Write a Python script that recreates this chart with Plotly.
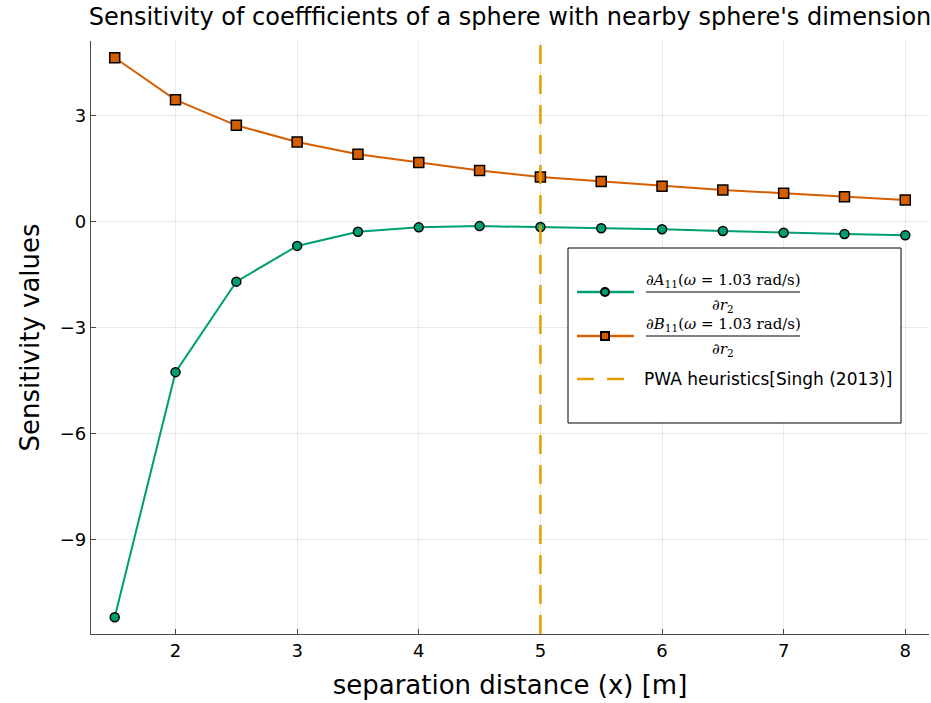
import plotly.graph_objects as go

# separation distance between the spheres [m]
separation = [1.5, 2.0, 2.5, 3.0, 3.5, 4.0, 4.5, 5.0, 5.5, 6.0, 6.5, 7.0, 7.5, 8.0]

# d A11 / d r2 (added mass sensitivity)
dA11_dr2 = [-11.19, -4.26, -1.70, -0.69, -0.29, -0.165, -0.13, -0.155, -0.19,
            -0.22, -0.27, -0.32, -0.355, -0.39]

# d B11 / d r2 (damping sensitivity)
dB11_dr2 = [4.63, 3.44, 2.72, 2.25, 1.90, 1.67, 1.44, 1.26, 1.13, 1.00, 0.89,
            0.80, 0.70, 0.61]

# PWA heuristic separation limit
pwa_limit = 5.0

x_ticks = [2, 3, 4, 5, 6, 7, 8]
y_ticks = [3, 0, -3, -6, -9]

GREEN = "#009E73"
ORANGE = "#D55E00"
GOLD = "#E69F00"

W, H = 931, 703
ML, MR, MT, MB = 91, 2, 41, 69
PW, PH = W - ML - MR, H - MT - MB


def px(xp):
    return (xp - ML) / PW


def py(yp):
    return (H - MB - yp) / PH


fig = go.Figure()

fig.add_trace(go.Scatter(
    x=separation, y=dA11_dr2, mode="lines+markers", showlegend=False,
    line=dict(color=GREEN, width=2),
    marker=dict(symbol="circle", size=9, color=GREEN,
                line=dict(color="black", width=1.5)),
))
fig.add_trace(go.Scatter(
    x=separation, y=dB11_dr2, mode="lines+markers", showlegend=False,
    line=dict(color=ORANGE, width=2),
    marker=dict(symbol="square", size=10, color=ORANGE,
                line=dict(color="black", width=1.5)),
))

fig.add_vline(x=pwa_limit, line=dict(color=GOLD, width=2.5, dash="19px,11px"))

# x / y extents with a small margin around the data
xmin, xmax = min(separation), max(separation)
xpad = 0.03 * (xmax - xmin)
ylo = min(dA11_dr2 + dB11_dr2)
yhi = max(dA11_dr2 + dB11_dr2)
ypad = 0.03 * (yhi - ylo)

axis_common = dict(
    showline=True, linecolor="#4a4a4a", linewidth=1.3, mirror=False,
    showgrid=True, gridcolor="rgba(0,0,0,0.08)", gridwidth=1,
    zeroline=False, ticks="inside", ticklen=5, tickcolor="#4a4a4a",
    tickfont=dict(family="DejaVu Sans", size=18, color="black"),
)

fig.update_layout(
    width=W, height=H,
    margin=dict(l=ML, r=MR, t=MT, b=MB),
    paper_bgcolor="white", plot_bgcolor="white",
    title=dict(text="Sensitivity of coeffficients of a sphere with nearby sphere's dimension",
               x=(ML + PW / 2) / W, xanchor="center", y=1 - 17 / H, yanchor="middle",
               font=dict(family="DejaVu Sans", size=24, color="black")),
    xaxis=dict(range=[xmin - xpad, xmax + xpad], tickvals=x_ticks,
               title=dict(text="separation distance (x) [m]", standoff=16,
                          font=dict(family="DejaVu Sans", size=26, color="black")),
               **axis_common),
    yaxis=dict(range=[ylo - ypad, yhi + ypad], tickvals=y_ticks,
               title=dict(text="Sensitivity values", standoff=12,
                          font=dict(family="DejaVu Sans", size=26, color="black")),
               **axis_common),
    showlegend=False,
)

# legend box drawn in paper coordinates
shapes = []
annotations = []
shapes.append(dict(type="rect", xref="paper", yref="paper", layer="above",
                   x0=px(568), x1=px(901), y0=py(423), y1=py(248),
                   fillcolor="white", line=dict(color="black", width=1)))

entries = [
    (292, GREEN, "circle", "∂<i>A</i><sub>11</sub>(<i>ω</i> = 1.03 rad/s)"),
    (336, ORANGE, "square", "∂<i>B</i><sub>11</sub>(<i>ω</i> = 1.03 rad/s)"),
]
for yc, col, sym, num in entries:
    shapes.append(dict(type="line", xref="paper", yref="paper", layer="above",
                       x0=px(577), x1=px(634), y0=py(yc), y1=py(yc),
                       line=dict(color=col, width=2.5)))
    r = 4
    shapes.append(dict(type="circle" if sym == "circle" else "rect",
                       xref="paper", yref="paper", layer="above",
                       x0=px(605 - r), x1=px(605 + r), y0=py(yc + r), y1=py(yc - r),
                       fillcolor=col, line=dict(color="black", width=2)))
    # fraction bar
    shapes.append(dict(type="line", xref="paper", yref="paper", layer="above",
                       x0=px(646), x1=px(800), y0=py(yc), y1=py(yc),
                       line=dict(color="black", width=1)))
    annotations.append(dict(x=px(723), y=py(yc - 12), xref="paper", yref="paper",
                            text=num, showarrow=False, xanchor="center", yanchor="middle",
                            font=dict(family="DejaVu Serif", size=15, color="black")))
    annotations.append(dict(x=px(723), y=py(yc + 13), xref="paper", yref="paper",
                            text="∂<i>r</i><sub>2</sub>", showarrow=False,
                            xanchor="center", yanchor="middle",
                            font=dict(family="DejaVu Serif", size=15, color="black")))

shapes.append(dict(type="line", xref="paper", yref="paper", layer="above",
                   x0=px(577), x1=px(634), y0=py(379), y1=py(379),
                   line=dict(color=GOLD, width=2.5, dash="17px,13px")))
annotations.append(dict(x=px(642), y=py(379), xref="paper", yref="paper",
                        text="PWA heuristics[Singh (2013)]", showarrow=False,
                        xanchor="left", yanchor="middle",
                        font=dict(family="DejaVu Sans", size=17, color="black")))

fig.update_layout(shapes=list(fig.layout.shapes) + shapes, annotations=annotations)

fig.write_html("out.html")
